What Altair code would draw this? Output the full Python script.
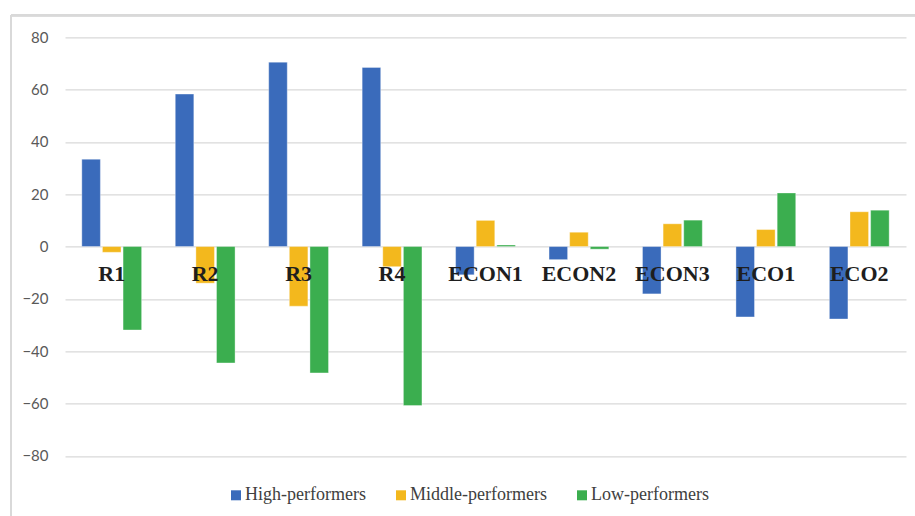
import altair as alt
import pandas as pd

categories = ["R1", "R2", "R3", "R4", "ECON1", "ECON2", "ECON3", "ECO1", "ECO2"]
series = ["High-performers", "Middle-performers", "Low-performers"]
high = [33.4, 58.3, 70.5, 68.5, -10.8, -5.0, -18.1, -26.9, -27.7]
middle = [-2.2, -14.0, -22.8, -7.7, 10.0, 5.5, 8.7, 6.5, 13.3]
low = [-31.9, -44.5, -48.3, -60.8, 0.6, -1.0, 10.1, 20.5, 13.9]
y_ticks = [-80, -60, -40, -20, 0, 20, 40, 60, 80]
colors = ["#3a6bbb", "#f3b81d", "#3bae4f"]

rows = []
for name, vals in zip(series, [high, middle, low]):
    for cat, v in zip(categories, vals):
        rows.append({"category": cat, "group": name, "value": v})
df = pd.DataFrame(rows)
labels_df = pd.DataFrame({"category": categories})

x_enc = alt.X("category:N", sort=categories, axis=None,
              scale=alt.Scale(paddingInner=0.36, paddingOuter=0.18))

bars = alt.Chart(df).mark_bar(stroke="white", strokeWidth=0.6, strokeOpacity=0.6).encode(
    x=x_enc,
    xOffset=alt.XOffset("group:N", sort=series, scale=alt.Scale(paddingInner=0.1)),
    y=alt.Y("value:Q", title=None,
            scale=alt.Scale(domain=[-80, 80], nice=False),
            axis=alt.Axis(values=y_ticks, grid=True, gridColor="#d9d9d9", gridWidth=1.3,
                          domain=False, ticks=False, labelPadding=17,
                          labelFont="Lato", labelFontSize=15, labelColor="#595959")),
    color=alt.Color("group:N", sort=series,
                    scale=alt.Scale(domain=series, range=colors),
                    legend=alt.Legend(title=None, orient="none", direction="horizontal",
                                      legendX=162, legendY=449,
                                      symbolType="square", symbolSize=100,
                                      symbolStrokeWidth=0, symbolOpacity=1,
                                      labelFont="Liberation Serif", labelFontSize=18,
                                      labelColor="#404040", labelOffset=0,
                                      columnPadding=26)),
)

text = alt.Chart(labels_df).mark_text(
    font="Liberation Serif", fontWeight="bold", fontSize=22, color="#1e1e1e",
    baseline="alphabetic", dy=34,
).encode(x=x_enc, y=alt.datum(0), text="category:N")

# outer frame of the chart box
frame_left = alt.Chart(labels_df).mark_rule(color="#d9d9d9", strokeWidth=2).encode(
    x=alt.value(-54), y=alt.value(-22), y2=alt.value(500))
frame_top = alt.Chart(labels_df).mark_rule(color="#d9d9d9", strokeWidth=2).encode(
    x=alt.value(-54), x2=alt.value(860), y=alt.value(-22))

chart = alt.layer(bars, text, frame_left, frame_top).properties(
    width=841, height=418.5,
    autosize=alt.AutoSizeParams(type="none"),
    padding={"left": 65, "top": 37.3, "right": 9, "bottom": 60.2},
).configure_view(stroke=None).configure_legend(
    labelFont="Liberation Serif", labelFontSize=18, labelColor="#404040"
)

chart.save("out.html", embed_options={"renderer": "svg", "actions": False})
